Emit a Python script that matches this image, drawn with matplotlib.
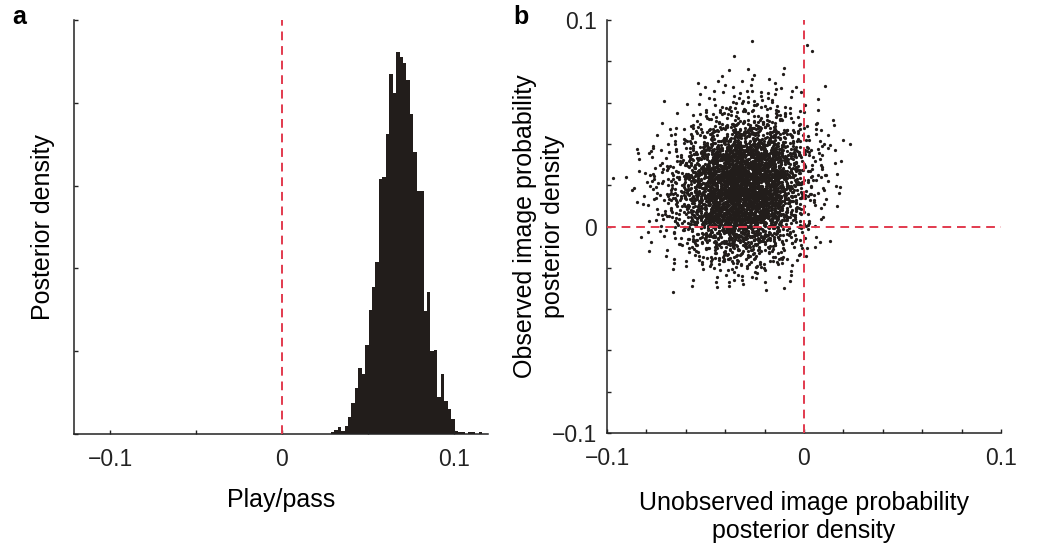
import numpy as np
import matplotlib
matplotlib.use("Agg")
import matplotlib.pyplot as plt

plt.rcParams['font.family'] = ['Liberation Sans', 'DejaVu Sans']

# panel a: histogram of play/pass posterior (bin heights)
bin_start = 0.0285
bin_width = 0.002
hist_heights = [0.03, 0.05, 0.08, 0.04, 0.10, 0.20, 0.38, 0.55, 0.80, 0.72,
                1.07, 1.50, 1.77, 2.08, 3.08, 3.10, 3.62, 4.35, 4.12, 4.61,
                4.55, 4.48, 4.27, 3.87, 3.40, 2.93, 2.93, 1.49, 1.72, 1.00,
                1.01, 0.45, 0.72, 0.40, 0.30, 0.18, 0.04, 0.02, 0.03, 0.00,
                0.03, 0.02, 0.00, 0.02]

# panel b: number of samples per 0.01 x 0.01 cell, rows from top (y=0.09) down
cell = 0.01
cell_x = [-0.10, -0.09, -0.08, -0.07, -0.06, -0.05, -0.04, -0.03, -0.02, -0.01, 0.00, 0.01, 0.02]
cell_y = [0.09, 0.08, 0.07, 0.06, 0.05, 0.04, 0.03, 0.02, 0.01, 0.00, -0.01, -0.02, -0.03]
cloud_counts = [
    [0, 0, 0, 0, 0, 0, 0, 1, 0, 0, 0, 0, 0],
    [0, 0, 0, 0, 0, 0, 1, 0, 0, 0, 2, 0, 0],
    [0, 0, 0, 0, 0, 1, 2, 2, 2, 1, 0, 0, 0],
    [0, 0, 0, 0, 3, 5, 7, 8, 7, 4, 1, 0, 0],
    [0, 0, 0, 2, 7, 13, 20, 20, 18, 9, 3, 2, 0],
    [0, 0, 2, 6, 16, 38, 60, 60, 48, 24, 9, 3, 0],
    [1, 3, 7, 15, 42, 95, 145, 145, 105, 45, 13, 4, 1],
    [1, 4, 12, 26, 70, 145, 210, 200, 140, 55, 16, 5, 0],
    [0, 2, 12, 28, 78, 155, 215, 195, 135, 50, 13, 3, 0],
    [0, 1, 7, 22, 60, 125, 165, 145, 100, 36, 9, 1, 0],
    [0, 1, 3, 10, 28, 60, 82, 74, 46, 18, 4, 1, 0],
    [0, 0, 2, 4, 12, 22, 30, 26, 18, 7, 2, 0, 0],
    [0, 0, 0, 1, 2, 5, 7, 6, 3, 3, 0, 0, 0],
]

red = '#e23a4e'
dark = '#221d1b'
tick_fs = 16.5
label_fs = 18


def halton(idx, base):
    # radical inverse of integer indices
    out = np.zeros(len(idx))
    f = 1.0 / base
    i = idx.copy()
    while np.any(i > 0):
        out += f * (i % base)
        i //= base
        f /= base
    return out


fig = plt.figure(figsize=(10.5, 5.47), dpi=100)
ax1 = fig.add_axes([74 / 1050, 113 / 547, 414 / 1050, 414 / 547])
ax2 = fig.add_axes([607 / 1050, 114 / 547, 394 / 1050, 413 / 547])

# ---- panel a
edges = bin_start + bin_width * np.arange(len(hist_heights) + 1)
ax1.stairs(hist_heights, edges, fill=True, color=dark, lw=0)
ax1.axvline(0, color=red, lw=1.4, ls=(0, (4.5, 3)), zorder=3)
ax1.set_xlim(-0.121, 0.12)
ax1.set_ylim(0, 5)
ax1.set_xticks([-0.1, -0.05, 0, 0.05, 0.1])
ax1.set_xticklabels(['\u22120.1', '', '0', '', '0.1'])
ax1.set_yticks([0, 1, 2, 3, 4, 5])
ax1.set_yticklabels([])
ax1.set_xlabel('Play/pass', fontsize=label_fs, va='center')
ax1.xaxis.set_label_coords(0.5, -0.159)
ax1.set_ylabel('Posterior density', fontsize=label_fs, va='center')
ax1.yaxis.set_label_coords(-0.075, 0.5)

# ---- panel b: spread each cell's samples around the cell (low-discrepancy layout)
px, py = [], []
start = 1
for r, row in enumerate(cloud_counts):
    for c, n in enumerate(row):
        if n == 0:
            continue
        k = np.arange(start, start + n)
        start += n
        q = [halton(k, b) for b in (2, 3, 5, 7)]
        px.append(cell_x[c] + cell * (0.5 + 0.8 * (q[0] + q[1] - 1)))
        py.append(cell_y[r] + cell * (0.5 + 0.8 * (q[2] + q[3] - 1)))
px = np.concatenate(px)
py = np.concatenate(py)
ax2.scatter(px, py, s=5.5, color=dark, linewidths=0, zorder=2)
ax2.axvline(0, color=red, lw=1.4, ls=(0, (4.5, 3)), zorder=3)
ax2.axhline(0, color=red, lw=1.4, ls=(0, (4.5, 3)), zorder=3)
ax2.set_xlim(-0.1, 0.1)
ax2.set_ylim(-0.1, 0.1)
ticks = np.round(np.arange(-0.1, 0.1001, 0.02), 2)
tlabels = ['\u22120.1' if t == -0.1 else '0' if t == 0 else '0.1' if t == 0.1 else '' for t in ticks]
ax2.set_xticks(ticks)
ax2.set_xticklabels(tlabels)
ax2.set_yticks(ticks)
ax2.set_yticklabels(tlabels)
ax2.set_xlabel('Unobserved image probability\nposterior density', fontsize=label_fs, va='center')
ax2.xaxis.set_label_coords(0.5, -0.203)
ax2.set_ylabel('Observed image probability\nposterior density', fontsize=label_fs, va='center')
ax2.yaxis.set_label_coords(-0.1726, 0.5)

for ax in (ax1, ax2):
    ax.spines['top'].set_visible(False)
    ax.spines['right'].set_visible(False)
    ax.spines['left'].set_linewidth(1.1)
    ax.spines['bottom'].set_linewidth(1.1)
    ax.spines['left'].set_color('#222222')
    ax.spines['bottom'].set_color('#222222')
    ax.tick_params(direction='in', length=3, width=1, colors='#222222',
                   labelsize=tick_fs, labelcolor='#222222')
ax1.tick_params(axis='x', pad=10)
ax2.tick_params(axis='x', pad=10)
ax2.tick_params(axis='y', pad=7)

fig.text(12 / 1050, 1 - 24 / 547, 'a', fontsize=18, fontweight='bold', va='baseline')
fig.text(513 / 1050, 1 - 24 / 547, 'b', fontsize=18, fontweight='bold', va='baseline')

fig.savefig('out.png', dpi=100)
